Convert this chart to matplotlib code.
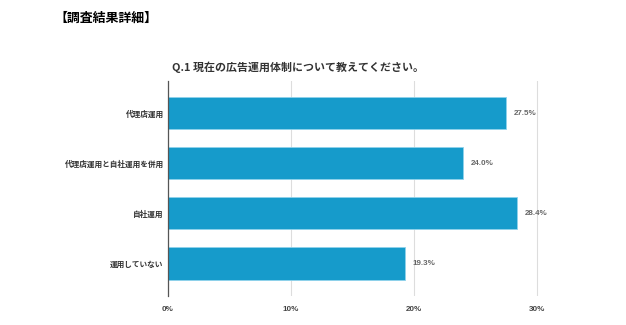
import matplotlib
matplotlib.use('Agg')
import matplotlib.pyplot as plt

plt.rcParams['font.family'] = ['Noto Sans CJK JP', 'DejaVu Sans']

# 回答データ
categories = ['代理店運用', '代理店運用と自社運用を併用', '自社運用', '運用していない']
values = [27.5, 24.0, 28.4, 19.3]
xticks = [0, 10, 20, 30]
xtick_labels = ['0%', '10%', '20%', '30%']

bar_color = '#169bcb'
num_font = ['Liberation Sans', 'DejaVu Sans']

fig = plt.figure(figsize=(6.26, 3.25), dpi=100)
ax = fig.add_axes([0.268, 0.089, 0.619, 0.662])

y = list(range(len(categories)))
ax.barh(y, values, height=0.64, color=bar_color, edgecolor='#8fd3ec', linewidth=0.6, zorder=3)

for yi, v in zip(y, values):
    ax.text(v + 0.6, yi, f'{v:.1f}%', va='center', ha='left', fontsize=5.8,
            fontweight='bold', color='#666666', family=num_font)

ax.set_xlim(0, 31.5)
ax.set_ylim(3.65, -0.64)
ax.set_yticks(y)
ax.set_yticklabels(categories, fontsize=5.5, color='#333333', fontweight='bold')
ax.set_xticks(xticks)
ax.set_xticklabels(xtick_labels, fontsize=5.8, fontweight='bold', color='#444444',
                   family=num_font)
ax.tick_params(axis='both', length=0)
ax.tick_params(axis='y', pad=3)
ax.tick_params(axis='x', pad=7)

ax.grid(axis='x', color='#dddddd', linewidth=0.8, zorder=0)
for side in ['top', 'right', 'bottom']:
    ax.spines[side].set_visible(False)
ax.spines['left'].set_color('#555555')
ax.spines['left'].set_linewidth(0.9)
ax.spines['left'].set_zorder(4)

fig.text(172 / 626, 1 - 67 / 325, 'Q.1 現在の広告運用体制について教えてください。',
         fontsize=7.9, fontweight='bold', color='#333333', va='center', ha='left')
fig.text(54 / 626, 1 - 18 / 325, '【調査結果詳細】', fontsize=9.3, fontweight='bold',
         color='#000000', va='center', ha='left')

fig.savefig('out.png', dpi=100)
